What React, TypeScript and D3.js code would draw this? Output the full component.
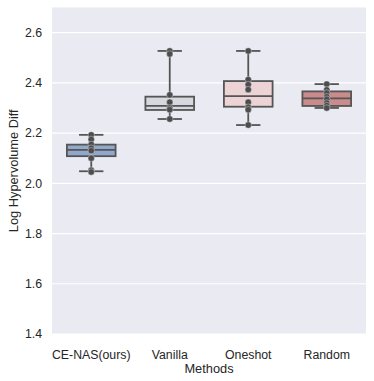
import React from "react";
import * as d3 from "d3";

const categories = ["CE-NAS(ours)", "Vanilla", "Oneshot", "Random"];
const boxColors = ["#91a8cc", "#d6d8df", "#ecd4d6", "#c98b8c"];
const whiskerLow = [2.048, 2.256, 2.232, 2.3];
const q1s = [2.108, 2.292, 2.305, 2.308];
const medians = [2.133, 2.308, 2.347, 2.338];
const q3s = [2.154, 2.345, 2.407, 2.366];
const whiskerHigh = [2.193, 2.527, 2.527, 2.395];
const points = [
  [2.193, 2.175, 2.155, 2.14, 2.13, 2.1, 2.052, 2.045],
  [2.527, 2.515, 2.352, 2.323, 2.3, 2.293, 2.256],
  [2.527, 2.413, 2.393, 2.373, 2.323, 2.303, 2.293, 2.232],
  [2.395, 2.372, 2.36, 2.345, 2.335, 2.32, 2.31, 2.3],
];
const yTicks = [1.4, 1.6, 1.8, 2.0, 2.2, 2.4, 2.6];

export default function App() {
  const W = 374, H = 381;
  const L = 52, R = 366, T = 7.5, B = 334;
  const x = d3.scaleBand<string>().domain(categories).range([L, R]).padding(0);
  const y = d3.scaleLinear().domain([1.4, 2.7]).range([B, T]);
  const bw = x.bandwidth() * 0.62;
  const lineC = "#555555";
  const font = "'Liberation Sans', Arial, sans-serif";
  return (
    <svg width={W} height={H} style={{ position: "absolute", left: 0, top: 0 }} fontFamily={font}>
      <rect x={L} y={T} width={R - L} height={B - T} fill="#eaeaf2" />
      {yTicks.map((t) => (
        <g key={t}>
          <line x1={L} x2={R} y1={y(t)} y2={y(t)} stroke="#ffffff" strokeWidth={1.2} />
          <text x={L - 10} y={y(t)} dy="0.35em" textAnchor="end" fontSize={12.3} fill="#262626">
            {d3.format(".1f")(t)}
          </text>
        </g>
      ))}
      {categories.map((c, i) => {
        const cx = x(c)! + x.bandwidth() / 2;
        return (
          <g key={c}>
            <line x1={cx} x2={cx} y1={y(whiskerHigh[i])} y2={y(q3s[i])} stroke={lineC} strokeWidth={1.8} />
            <line x1={cx} x2={cx} y1={y(q1s[i])} y2={y(whiskerLow[i])} stroke={lineC} strokeWidth={1.8} />
            <line x1={cx - bw / 4} x2={cx + bw / 4} y1={y(whiskerHigh[i])} y2={y(whiskerHigh[i])} stroke={lineC} strokeWidth={1.8} />
            <line x1={cx - bw / 4} x2={cx + bw / 4} y1={y(whiskerLow[i])} y2={y(whiskerLow[i])} stroke={lineC} strokeWidth={1.8} />
            <rect x={cx - bw / 2} y={y(q3s[i])} width={bw} height={y(q1s[i]) - y(q3s[i])} fill={boxColors[i]} stroke={lineC} strokeWidth={1.8} />
            <line x1={cx - bw / 2} x2={cx + bw / 2} y1={y(medians[i])} y2={y(medians[i])} stroke={lineC} strokeWidth={1.8} />
            {points[i].map((p, j) => (
              <circle key={j} cx={cx} cy={y(p)} r={3.2} fill="#4d4d4d" stroke="#eaeaf2" strokeWidth={0.4} />
            ))}
            <text x={cx} y={B + 21} dy="0.35em" textAnchor="middle" fontSize={12.3} fill="#262626">
              {c}
            </text>
          </g>
        );
      })}
      <text x={(L + R) / 2} y={B + 35} dy="0.35em" textAnchor="middle" fontSize={12.8} fill="#262626">
        Methods
      </text>
      <text transform={`translate(14,${(T + B) / 2}) rotate(-90)`} textAnchor="middle" dy="0.35em" fontSize={12.8} fill="#262626">
        Log Hypervolume Diff
      </text>
    </svg>
  );
}
